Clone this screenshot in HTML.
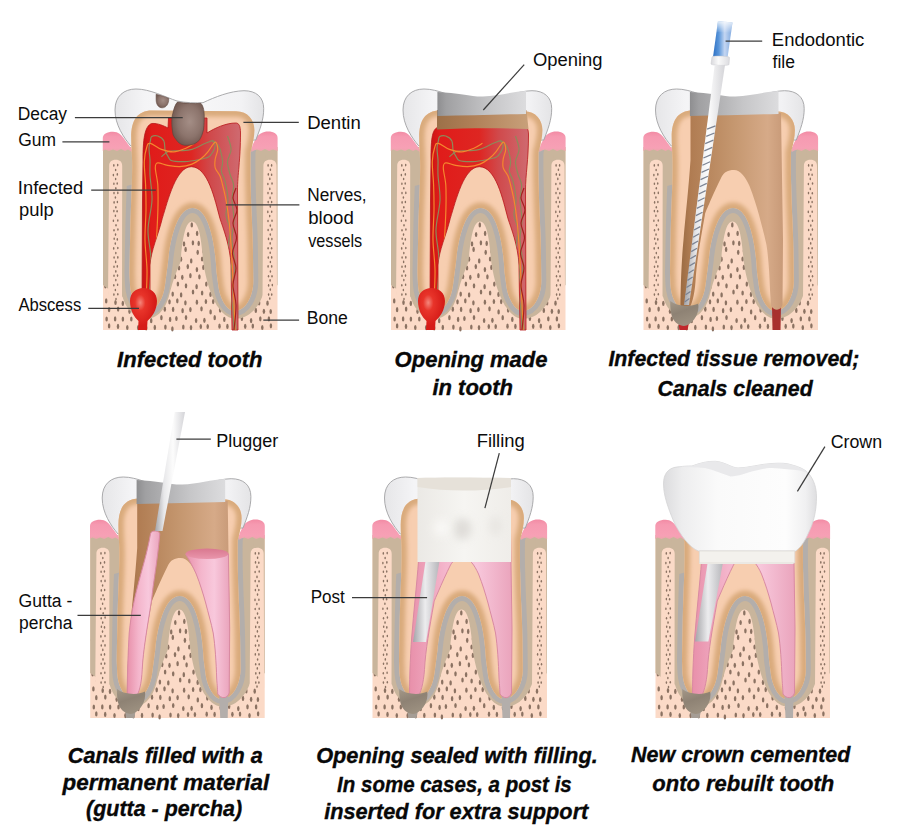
<!DOCTYPE html><html><head><meta charset="utf-8"><style>html,body{margin:0;padding:0;background:#fff;}body{position:relative;width:900px;height:839px;overflow:hidden}svg{display:block;}</style></head><body><svg width="0" height="0" style="position:absolute"><defs><linearGradient id="blueGrad" x1="0" y1="0" x2="1" y2="0"><stop offset="0" stop-color="#2c70c4"/><stop offset="0.3" stop-color="#5a96da"/><stop offset="0.6" stop-color="#c4d6f2"/><stop offset="1" stop-color="#7aa6de"/></linearGradient><linearGradient id="blueFade" x1="0" y1="0" x2="0" y2="1"><stop offset="0" stop-color="#ffffff" stop-opacity="0.85"/><stop offset="1" stop-color="#ffffff" stop-opacity="0"/></linearGradient><linearGradient id="collarGrad" x1="0" y1="0" x2="1" y2="0"><stop offset="0" stop-color="#d8d8dc"/><stop offset="0.4" stop-color="#fafafa"/><stop offset="1" stop-color="#dcdce0"/></linearGradient><linearGradient id="shaftGrad" x1="0" y1="0" x2="1" y2="0"><stop offset="0" stop-color="#a4a4a8"/><stop offset="0.3" stop-color="#e8e8ea"/><stop offset="0.6" stop-color="#fcfcfc"/><stop offset="1" stop-color="#d4d4d8"/></linearGradient><linearGradient id="crownGrad" x1="0" y1="0" x2="1" y2="0"><stop offset="0" stop-color="#dcdcde"/><stop offset="0.12" stop-color="#ededee"/><stop offset="0.35" stop-color="#fafafa"/><stop offset="0.8" stop-color="#fdfdfd"/><stop offset="0.93" stop-color="#f0f0f1"/><stop offset="1" stop-color="#dedee0"/></linearGradient><linearGradient id="postGrad" x1="0" y1="0" x2="1" y2="0"><stop offset="0" stop-color="#a4a4a8"/><stop offset="0.45" stop-color="#ececee"/><stop offset="1" stop-color="#b4b4b8"/></linearGradient><linearGradient id="fillGrad" x1="0" y1="0" x2="1" y2="0"><stop offset="0" stop-color="#ebe9e5"/><stop offset="0.5" stop-color="#f6f5f2"/><stop offset="1" stop-color="#efede9"/></linearGradient><linearGradient id="gpTop" x1="0" y1="0" x2="0" y2="1"><stop offset="0" stop-color="#d9788f"/><stop offset="1" stop-color="#e996ac"/></linearGradient><filter id="blur4" x="-60%" y="-60%" width="220%" height="220%"><feGaussianBlur stdDeviation="4"/></filter></defs></svg><svg width="900" height="839" viewBox="0 0 900 839"><defs><path id="tooth" d="M131.2,137 C131.2,121 137,110.6 152,110.6 L236,111.2 C248,111.2 254.4,120 254.4,130 C254.4,137 252.5,145 250.5,152 C250.3,165 250.5,180 250.7,185 C251,200 251.5,210 251.8,217 C252.3,230 252.8,240 252.9,249 L253.3,281 C253.3,297 245,311 235,311 C226,311 220,297 218.5,287 L216.5,272 C215,240 208,208 192.5,208 C177,208 170,240 168,262 L165,285 C163,300 156,311 147.5,311 C138,311 131,300 130,285 L129.5,273 C129.8,255 130,245 130.2,235 C130.5,220 131.2,200 131.8,185 C132.2,172 132.3,165 132,158 C131.7,150 131.2,145 131.2,137 Z"/><clipPath id="boneClip"><rect x="103" y="149" width="174.5" height="181"/></clipPath><clipPath id="grayClip"><path d="M103,330 L103,200 C112,192 122,186 135,184 L192,166 L192,150 L277.5,150 L277.5,330 Z"/></clipPath><clipPath id="toothClip"><path d="M131.2,137 C131.2,121 137,110.6 152,110.6 L236,111.2 C248,111.2 254.4,120 254.4,130 C254.4,137 252.5,145 250.5,152 C250.3,165 250.5,180 250.7,185 C251,200 251.5,210 251.8,217 C252.3,230 252.8,240 252.9,249 L253.3,281 C253.3,297 245,311 235,311 C226,311 220,297 218.5,287 L216.5,272 C215,240 208,208 192.5,208 C177,208 170,240 168,262 L165,285 C163,300 156,311 147.5,311 C138,311 131,300 130,285 L129.5,273 C129.8,255 130,245 130.2,235 C130.5,220 131.2,200 131.8,185 C132.2,172 132.3,165 132,158 C131.7,150 131.2,145 131.2,137 Z"/></clipPath><clipPath id="pulpClip"><path d="M143,160 C143,140 144.5,126 151.7,123.5 C158,123 164,126 168,128 L168.5,118 L207,118 L207,133 C215,128 226,123 235.7,123 C239,123 240.5,126 240.5,133 C240.5,160 237.5,175 237.5,190 L238,330 L232,330 L231,265 C230,245 223,228 219.9,218.3 C215,200 208,166.7 191.3,166.7 C176,166.7 168,200 162.3,218.3 C158,236 151,250 150,265 L150,305 L142,305 L142.5,200 Z"/></clipPath><clipPath id="stripClip"><path d="M109.2,166 C109.2,162 111.5,159.8 115.7,159.8 C119.9,159.8 122.2,162 122.2,166 L122,300 L108,300 Z M263.4,166 C263.4,162 265.7,159.8 270,159.8 C274.2,159.8 276.5,162 276.5,166 L277,300 L262.5,300 Z"/></clipPath><filter id="blur2" x="-20%" y="-20%" width="140%" height="140%"><feGaussianBlur stdDeviation="2.3"/></filter><linearGradient id="pulpGrad" x1="0" y1="0" x2="1" y2="0"><stop offset="0" stop-color="#c81414"/><stop offset="0.1" stop-color="#e01c1a"/><stop offset="0.5" stop-color="#de2622"/><stop offset="0.7" stop-color="#d04a4c"/><stop offset="1" stop-color="#cf6a70"/></linearGradient><radialGradient id="absGrad" cx="0.38" cy="0.35" r="0.55"><stop offset="0" stop-color="#f4877c"/><stop offset="0.35" stop-color="#e8342a"/><stop offset="1" stop-color="#d61c18"/></radialGradient><linearGradient id="decayGrad" x1="0" y1="0" x2="1" y2="1"><stop offset="0" stop-color="#7d6258"/><stop offset="0.5" stop-color="#937b70"/><stop offset="1" stop-color="#6e5650"/></linearGradient><linearGradient id="openGrad" x1="0" y1="0" x2="1" y2="0"><stop offset="0" stop-color="#8e8e90"/><stop offset="0.1" stop-color="#a0a0a2"/><stop offset="0.6" stop-color="#c6c6c8"/><stop offset="1" stop-color="#dcdcde"/></linearGradient><linearGradient id="brownBand" x1="0" y1="0" x2="1" y2="0"><stop offset="0" stop-color="#9c7048"/><stop offset="0.4" stop-color="#b08058"/><stop offset="1" stop-color="#c8a07a"/></linearGradient><linearGradient id="cavGrad" x1="0" y1="0" x2="1" y2="0"><stop offset="0" stop-color="#9a6a42"/><stop offset="0.1" stop-color="#b07c52"/><stop offset="0.5" stop-color="#c4966e"/><stop offset="0.85" stop-color="#d6aa88"/><stop offset="1" stop-color="#c89a78"/></linearGradient><linearGradient id="gpGrad" x1="0" y1="0" x2="1" y2="0"><stop offset="0" stop-color="#e890aa"/><stop offset="0.35" stop-color="#f4b6cc"/><stop offset="0.65" stop-color="#f8c8dc"/><stop offset="1" stop-color="#eaa4bc"/></linearGradient><linearGradient id="blobGrad" x1="0" y1="0" x2="0.4" y2="1"><stop offset="0" stop-color="#a49888"/><stop offset="0.5" stop-color="#8e8274"/><stop offset="1" stop-color="#9c9080"/></linearGradient><g id="dotsB" fill="#8b7262"><ellipse cx="105.1" cy="200.2" rx="1.25" ry="2.6"/><ellipse cx="114.5" cy="200.4" rx="1.25" ry="2.6"/><ellipse cx="124.5" cy="198.4" rx="1.25" ry="2.6"/><ellipse cx="131.2" cy="201.2" rx="1.25" ry="2.6"/><ellipse cx="141.1" cy="199.0" rx="1.25" ry="2.6"/><ellipse cx="152.8" cy="199.9" rx="1.25" ry="2.6"/><ellipse cx="161.2" cy="199.9" rx="1.25" ry="2.6"/><ellipse cx="169.5" cy="198.7" rx="1.25" ry="2.6"/><ellipse cx="178.5" cy="201.3" rx="1.25" ry="2.6"/><ellipse cx="187.1" cy="200.9" rx="1.25" ry="2.6"/><ellipse cx="196.6" cy="198.4" rx="1.25" ry="2.6"/><ellipse cx="205.9" cy="200.3" rx="1.25" ry="2.6"/><ellipse cx="213.3" cy="198.3" rx="1.25" ry="2.6"/><ellipse cx="224.3" cy="199.9" rx="1.25" ry="2.6"/><ellipse cx="232.8" cy="201.4" rx="1.25" ry="2.6"/><ellipse cx="241.8" cy="201.5" rx="1.25" ry="2.6"/><ellipse cx="249.6" cy="201.1" rx="1.25" ry="2.6"/><ellipse cx="258.8" cy="201.6" rx="1.25" ry="2.6"/><ellipse cx="269.4" cy="198.6" rx="1.25" ry="2.6"/><ellipse cx="109.2" cy="207.5" rx="1.25" ry="2.6"/><ellipse cx="121.2" cy="208.3" rx="1.25" ry="2.6"/><ellipse cx="129.0" cy="207.8" rx="1.25" ry="2.6"/><ellipse cx="137.5" cy="208.1" rx="1.25" ry="2.6"/><ellipse cx="146.0" cy="208.8" rx="1.25" ry="2.6"/><ellipse cx="155.8" cy="210.0" rx="1.25" ry="2.6"/><ellipse cx="165.2" cy="210.0" rx="1.25" ry="2.6"/><ellipse cx="174.8" cy="210.3" rx="1.25" ry="2.6"/><ellipse cx="183.1" cy="207.3" rx="1.25" ry="2.6"/><ellipse cx="192.8" cy="210.2" rx="1.25" ry="2.6"/><ellipse cx="202.0" cy="208.7" rx="1.25" ry="2.6"/><ellipse cx="210.3" cy="207.5" rx="1.25" ry="2.6"/><ellipse cx="219.7" cy="208.8" rx="1.25" ry="2.6"/><ellipse cx="226.7" cy="206.9" rx="1.25" ry="2.6"/><ellipse cx="237.8" cy="210.3" rx="1.25" ry="2.6"/><ellipse cx="244.0" cy="209.6" rx="1.25" ry="2.6"/><ellipse cx="254.2" cy="207.2" rx="1.25" ry="2.6"/><ellipse cx="262.8" cy="209.5" rx="1.25" ry="2.6"/><ellipse cx="273.8" cy="206.9" rx="1.25" ry="2.6"/><ellipse cx="106.4" cy="215.4" rx="1.25" ry="2.6"/><ellipse cx="115.8" cy="216.4" rx="1.25" ry="2.6"/><ellipse cx="125.4" cy="218.7" rx="1.25" ry="2.6"/><ellipse cx="133.0" cy="218.8" rx="1.25" ry="2.6"/><ellipse cx="141.3" cy="215.5" rx="1.25" ry="2.6"/><ellipse cx="151.4" cy="215.3" rx="1.25" ry="2.6"/><ellipse cx="158.9" cy="216.7" rx="1.25" ry="2.6"/><ellipse cx="169.4" cy="215.8" rx="1.25" ry="2.6"/><ellipse cx="176.4" cy="218.3" rx="1.25" ry="2.6"/><ellipse cx="186.3" cy="218.7" rx="1.25" ry="2.6"/><ellipse cx="197.4" cy="216.6" rx="1.25" ry="2.6"/><ellipse cx="204.9" cy="217.1" rx="1.25" ry="2.6"/><ellipse cx="214.5" cy="217.3" rx="1.25" ry="2.6"/><ellipse cx="223.2" cy="217.4" rx="1.25" ry="2.6"/><ellipse cx="233.6" cy="217.0" rx="1.25" ry="2.6"/><ellipse cx="240.8" cy="217.8" rx="1.25" ry="2.6"/><ellipse cx="249.1" cy="216.3" rx="1.25" ry="2.6"/><ellipse cx="260.7" cy="217.1" rx="1.25" ry="2.6"/><ellipse cx="268.2" cy="215.2" rx="1.25" ry="2.6"/><ellipse cx="110.2" cy="225.8" rx="1.25" ry="2.6"/><ellipse cx="117.8" cy="225.9" rx="1.25" ry="2.6"/><ellipse cx="129.0" cy="223.9" rx="1.25" ry="2.6"/><ellipse cx="138.0" cy="225.4" rx="1.25" ry="2.6"/><ellipse cx="147.1" cy="225.0" rx="1.25" ry="2.6"/><ellipse cx="156.2" cy="226.4" rx="1.25" ry="2.6"/><ellipse cx="162.8" cy="223.9" rx="1.25" ry="2.6"/><ellipse cx="174.1" cy="227.2" rx="1.25" ry="2.6"/><ellipse cx="181.6" cy="225.3" rx="1.25" ry="2.6"/><ellipse cx="191.8" cy="224.9" rx="1.25" ry="2.6"/><ellipse cx="200.0" cy="224.8" rx="1.25" ry="2.6"/><ellipse cx="209.0" cy="225.8" rx="1.25" ry="2.6"/><ellipse cx="217.8" cy="225.1" rx="1.25" ry="2.6"/><ellipse cx="228.5" cy="223.8" rx="1.25" ry="2.6"/><ellipse cx="236.7" cy="226.3" rx="1.25" ry="2.6"/><ellipse cx="244.8" cy="224.5" rx="1.25" ry="2.6"/><ellipse cx="255.6" cy="224.6" rx="1.25" ry="2.6"/><ellipse cx="262.4" cy="225.3" rx="1.25" ry="2.6"/><ellipse cx="273.2" cy="224.1" rx="1.25" ry="2.6"/><ellipse cx="105.4" cy="233.4" rx="1.25" ry="2.6"/><ellipse cx="116.2" cy="233.8" rx="1.25" ry="2.6"/><ellipse cx="125.3" cy="232.8" rx="1.25" ry="2.6"/><ellipse cx="132.4" cy="234.5" rx="1.25" ry="2.6"/><ellipse cx="143.4" cy="233.8" rx="1.25" ry="2.6"/><ellipse cx="150.0" cy="232.6" rx="1.25" ry="2.6"/><ellipse cx="160.1" cy="232.9" rx="1.25" ry="2.6"/><ellipse cx="170.1" cy="235.2" rx="1.25" ry="2.6"/><ellipse cx="176.9" cy="233.2" rx="1.25" ry="2.6"/><ellipse cx="188.1" cy="234.5" rx="1.25" ry="2.6"/><ellipse cx="197.1" cy="233.4" rx="1.25" ry="2.6"/><ellipse cx="203.7" cy="233.3" rx="1.25" ry="2.6"/><ellipse cx="215.1" cy="233.2" rx="1.25" ry="2.6"/><ellipse cx="222.4" cy="233.7" rx="1.25" ry="2.6"/><ellipse cx="231.7" cy="233.7" rx="1.25" ry="2.6"/><ellipse cx="242.5" cy="232.8" rx="1.25" ry="2.6"/><ellipse cx="248.2" cy="235.6" rx="1.25" ry="2.6"/><ellipse cx="260.4" cy="235.8" rx="1.25" ry="2.6"/><ellipse cx="267.8" cy="235.6" rx="1.25" ry="2.6"/><ellipse cx="112.0" cy="241.5" rx="1.25" ry="2.6"/><ellipse cx="120.4" cy="243.7" rx="1.25" ry="2.6"/><ellipse cx="129.1" cy="242.6" rx="1.25" ry="2.6"/><ellipse cx="136.7" cy="241.9" rx="1.25" ry="2.6"/><ellipse cx="145.5" cy="240.9" rx="1.25" ry="2.6"/><ellipse cx="155.8" cy="241.7" rx="1.25" ry="2.6"/><ellipse cx="165.6" cy="240.9" rx="1.25" ry="2.6"/><ellipse cx="175.0" cy="243.2" rx="1.25" ry="2.6"/><ellipse cx="184.0" cy="243.9" rx="1.25" ry="2.6"/><ellipse cx="192.9" cy="242.8" rx="1.25" ry="2.6"/><ellipse cx="198.7" cy="243.4" rx="1.25" ry="2.6"/><ellipse cx="208.3" cy="241.8" rx="1.25" ry="2.6"/><ellipse cx="219.1" cy="242.6" rx="1.25" ry="2.6"/><ellipse cx="227.2" cy="244.1" rx="1.25" ry="2.6"/><ellipse cx="236.9" cy="241.9" rx="1.25" ry="2.6"/><ellipse cx="244.6" cy="243.8" rx="1.25" ry="2.6"/><ellipse cx="254.4" cy="243.5" rx="1.25" ry="2.6"/><ellipse cx="263.0" cy="241.4" rx="1.25" ry="2.6"/><ellipse cx="272.6" cy="243.6" rx="1.25" ry="2.6"/><ellipse cx="104.8" cy="252.1" rx="1.25" ry="2.6"/><ellipse cx="116.5" cy="252.1" rx="1.25" ry="2.6"/><ellipse cx="125.2" cy="249.2" rx="1.25" ry="2.6"/><ellipse cx="133.5" cy="252.3" rx="1.25" ry="2.6"/><ellipse cx="140.4" cy="250.2" rx="1.25" ry="2.6"/><ellipse cx="150.2" cy="251.1" rx="1.25" ry="2.6"/><ellipse cx="159.7" cy="250.9" rx="1.25" ry="2.6"/><ellipse cx="170.0" cy="249.2" rx="1.25" ry="2.6"/><ellipse cx="176.4" cy="249.7" rx="1.25" ry="2.6"/><ellipse cx="185.6" cy="249.4" rx="1.25" ry="2.6"/><ellipse cx="197.7" cy="252.3" rx="1.25" ry="2.6"/><ellipse cx="203.5" cy="251.0" rx="1.25" ry="2.6"/><ellipse cx="213.3" cy="250.3" rx="1.25" ry="2.6"/><ellipse cx="222.5" cy="251.5" rx="1.25" ry="2.6"/><ellipse cx="232.3" cy="250.5" rx="1.25" ry="2.6"/><ellipse cx="239.9" cy="250.4" rx="1.25" ry="2.6"/><ellipse cx="248.6" cy="251.2" rx="1.25" ry="2.6"/><ellipse cx="259.8" cy="250.6" rx="1.25" ry="2.6"/><ellipse cx="266.5" cy="249.8" rx="1.25" ry="2.6"/><ellipse cx="110.0" cy="259.9" rx="1.25" ry="2.6"/><ellipse cx="120.5" cy="259.1" rx="1.25" ry="2.6"/><ellipse cx="129.6" cy="259.9" rx="1.25" ry="2.6"/><ellipse cx="137.3" cy="259.0" rx="1.25" ry="2.6"/><ellipse cx="146.5" cy="260.2" rx="1.25" ry="2.6"/><ellipse cx="155.2" cy="260.2" rx="1.25" ry="2.6"/><ellipse cx="164.4" cy="258.6" rx="1.25" ry="2.6"/><ellipse cx="173.6" cy="260.2" rx="1.25" ry="2.6"/><ellipse cx="181.0" cy="259.2" rx="1.25" ry="2.6"/><ellipse cx="191.2" cy="260.9" rx="1.25" ry="2.6"/><ellipse cx="202.1" cy="259.0" rx="1.25" ry="2.6"/><ellipse cx="210.9" cy="260.5" rx="1.25" ry="2.6"/><ellipse cx="217.6" cy="259.4" rx="1.25" ry="2.6"/><ellipse cx="226.1" cy="260.6" rx="1.25" ry="2.6"/><ellipse cx="237.1" cy="260.9" rx="1.25" ry="2.6"/><ellipse cx="246.6" cy="260.1" rx="1.25" ry="2.6"/><ellipse cx="255.3" cy="259.7" rx="1.25" ry="2.6"/><ellipse cx="262.1" cy="259.8" rx="1.25" ry="2.6"/><ellipse cx="270.7" cy="258.2" rx="1.25" ry="2.6"/><ellipse cx="107.0" cy="266.4" rx="1.25" ry="2.6"/><ellipse cx="113.5" cy="266.6" rx="1.25" ry="2.6"/><ellipse cx="125.4" cy="266.8" rx="1.25" ry="2.6"/><ellipse cx="131.3" cy="269.2" rx="1.25" ry="2.6"/><ellipse cx="140.6" cy="269.2" rx="1.25" ry="2.6"/><ellipse cx="151.6" cy="269.2" rx="1.25" ry="2.6"/><ellipse cx="161.6" cy="268.3" rx="1.25" ry="2.6"/><ellipse cx="170.1" cy="266.3" rx="1.25" ry="2.6"/><ellipse cx="179.0" cy="268.0" rx="1.25" ry="2.6"/><ellipse cx="187.8" cy="266.6" rx="1.25" ry="2.6"/><ellipse cx="196.9" cy="269.6" rx="1.25" ry="2.6"/><ellipse cx="203.4" cy="267.4" rx="1.25" ry="2.6"/><ellipse cx="214.2" cy="269.2" rx="1.25" ry="2.6"/><ellipse cx="222.1" cy="266.8" rx="1.25" ry="2.6"/><ellipse cx="231.1" cy="268.4" rx="1.25" ry="2.6"/><ellipse cx="241.9" cy="267.6" rx="1.25" ry="2.6"/><ellipse cx="249.5" cy="267.6" rx="1.25" ry="2.6"/><ellipse cx="258.5" cy="267.7" rx="1.25" ry="2.6"/><ellipse cx="266.5" cy="268.0" rx="1.25" ry="2.6"/><ellipse cx="112.2" cy="276.2" rx="1.25" ry="2.6"/><ellipse cx="120.4" cy="275.3" rx="1.25" ry="2.6"/><ellipse cx="129.2" cy="277.4" rx="1.25" ry="2.6"/><ellipse cx="138.1" cy="276.6" rx="1.25" ry="2.6"/><ellipse cx="146.4" cy="277.0" rx="1.25" ry="2.6"/><ellipse cx="156.9" cy="275.2" rx="1.25" ry="2.6"/><ellipse cx="163.0" cy="277.4" rx="1.25" ry="2.6"/><ellipse cx="175.0" cy="276.6" rx="1.25" ry="2.6"/><ellipse cx="182.3" cy="277.3" rx="1.25" ry="2.6"/><ellipse cx="190.4" cy="275.7" rx="1.25" ry="2.6"/><ellipse cx="199.4" cy="276.8" rx="1.25" ry="2.6"/><ellipse cx="208.8" cy="275.5" rx="1.25" ry="2.6"/><ellipse cx="219.2" cy="278.1" rx="1.25" ry="2.6"/><ellipse cx="226.8" cy="277.2" rx="1.25" ry="2.6"/><ellipse cx="236.2" cy="277.8" rx="1.25" ry="2.6"/><ellipse cx="245.8" cy="275.7" rx="1.25" ry="2.6"/><ellipse cx="253.5" cy="274.8" rx="1.25" ry="2.6"/><ellipse cx="263.4" cy="276.1" rx="1.25" ry="2.6"/><ellipse cx="271.3" cy="276.0" rx="1.25" ry="2.6"/><ellipse cx="105.4" cy="286.0" rx="1.25" ry="2.6"/><ellipse cx="113.7" cy="286.8" rx="1.25" ry="2.6"/><ellipse cx="123.9" cy="285.4" rx="1.25" ry="2.6"/><ellipse cx="132.9" cy="286.2" rx="1.25" ry="2.6"/><ellipse cx="143.2" cy="285.2" rx="1.25" ry="2.6"/><ellipse cx="150.9" cy="285.8" rx="1.25" ry="2.6"/><ellipse cx="161.3" cy="284.6" rx="1.25" ry="2.6"/><ellipse cx="169.8" cy="286.7" rx="1.25" ry="2.6"/><ellipse cx="177.9" cy="284.0" rx="1.25" ry="2.6"/><ellipse cx="186.0" cy="285.8" rx="1.25" ry="2.6"/><ellipse cx="196.6" cy="286.7" rx="1.25" ry="2.6"/><ellipse cx="206.3" cy="284.1" rx="1.25" ry="2.6"/><ellipse cx="212.9" cy="284.1" rx="1.25" ry="2.6"/><ellipse cx="221.9" cy="285.7" rx="1.25" ry="2.6"/><ellipse cx="233.3" cy="286.4" rx="1.25" ry="2.6"/><ellipse cx="240.1" cy="286.3" rx="1.25" ry="2.6"/><ellipse cx="249.3" cy="284.7" rx="1.25" ry="2.6"/><ellipse cx="259.8" cy="283.5" rx="1.25" ry="2.6"/><ellipse cx="266.5" cy="286.2" rx="1.25" ry="2.6"/><ellipse cx="109.8" cy="293.0" rx="1.25" ry="2.6"/><ellipse cx="119.8" cy="294.1" rx="1.25" ry="2.6"/><ellipse cx="126.7" cy="292.9" rx="1.25" ry="2.6"/><ellipse cx="137.3" cy="293.4" rx="1.25" ry="2.6"/><ellipse cx="145.5" cy="293.8" rx="1.25" ry="2.6"/><ellipse cx="157.1" cy="293.1" rx="1.25" ry="2.6"/><ellipse cx="164.7" cy="292.1" rx="1.25" ry="2.6"/><ellipse cx="172.7" cy="294.1" rx="1.25" ry="2.6"/><ellipse cx="181.1" cy="294.9" rx="1.25" ry="2.6"/><ellipse cx="193.0" cy="292.0" rx="1.25" ry="2.6"/><ellipse cx="202.1" cy="293.0" rx="1.25" ry="2.6"/><ellipse cx="210.5" cy="294.4" rx="1.25" ry="2.6"/><ellipse cx="217.8" cy="294.1" rx="1.25" ry="2.6"/><ellipse cx="228.1" cy="294.6" rx="1.25" ry="2.6"/><ellipse cx="235.7" cy="294.4" rx="1.25" ry="2.6"/><ellipse cx="247.2" cy="294.1" rx="1.25" ry="2.6"/><ellipse cx="254.6" cy="292.1" rx="1.25" ry="2.6"/><ellipse cx="263.5" cy="293.0" rx="1.25" ry="2.6"/><ellipse cx="273.3" cy="294.1" rx="1.25" ry="2.6"/><ellipse cx="106.2" cy="300.9" rx="1.25" ry="2.6"/><ellipse cx="115.5" cy="302.5" rx="1.25" ry="2.6"/><ellipse cx="122.8" cy="303.4" rx="1.25" ry="2.6"/><ellipse cx="133.6" cy="300.6" rx="1.25" ry="2.6"/><ellipse cx="143.6" cy="300.7" rx="1.25" ry="2.6"/><ellipse cx="150.4" cy="302.8" rx="1.25" ry="2.6"/><ellipse cx="160.4" cy="302.2" rx="1.25" ry="2.6"/><ellipse cx="169.5" cy="301.8" rx="1.25" ry="2.6"/><ellipse cx="177.3" cy="300.8" rx="1.25" ry="2.6"/><ellipse cx="185.4" cy="302.8" rx="1.25" ry="2.6"/><ellipse cx="196.9" cy="302.2" rx="1.25" ry="2.6"/><ellipse cx="205.9" cy="301.5" rx="1.25" ry="2.6"/><ellipse cx="213.2" cy="301.6" rx="1.25" ry="2.6"/><ellipse cx="224.3" cy="300.4" rx="1.25" ry="2.6"/><ellipse cx="232.0" cy="301.1" rx="1.25" ry="2.6"/><ellipse cx="242.0" cy="301.5" rx="1.25" ry="2.6"/><ellipse cx="249.4" cy="301.7" rx="1.25" ry="2.6"/><ellipse cx="259.1" cy="303.0" rx="1.25" ry="2.6"/><ellipse cx="267.5" cy="303.2" rx="1.25" ry="2.6"/><ellipse cx="109.1" cy="309.7" rx="1.25" ry="2.6"/><ellipse cx="118.1" cy="309.1" rx="1.25" ry="2.6"/><ellipse cx="129.5" cy="311.3" rx="1.25" ry="2.6"/><ellipse cx="136.4" cy="309.4" rx="1.25" ry="2.6"/><ellipse cx="146.2" cy="311.4" rx="1.25" ry="2.6"/><ellipse cx="156.6" cy="311.4" rx="1.25" ry="2.6"/><ellipse cx="164.8" cy="309.2" rx="1.25" ry="2.6"/><ellipse cx="173.1" cy="309.4" rx="1.25" ry="2.6"/><ellipse cx="182.6" cy="310.7" rx="1.25" ry="2.6"/><ellipse cx="190.4" cy="309.6" rx="1.25" ry="2.6"/><ellipse cx="201.5" cy="308.8" rx="1.25" ry="2.6"/><ellipse cx="210.6" cy="311.9" rx="1.25" ry="2.6"/><ellipse cx="220.1" cy="310.1" rx="1.25" ry="2.6"/><ellipse cx="227.7" cy="310.8" rx="1.25" ry="2.6"/><ellipse cx="237.0" cy="312.2" rx="1.25" ry="2.6"/><ellipse cx="246.2" cy="309.8" rx="1.25" ry="2.6"/><ellipse cx="255.8" cy="310.4" rx="1.25" ry="2.6"/><ellipse cx="263.9" cy="311.3" rx="1.25" ry="2.6"/><ellipse cx="270.7" cy="311.5" rx="1.25" ry="2.6"/><ellipse cx="106.6" cy="319.0" rx="1.25" ry="2.6"/><ellipse cx="115.1" cy="318.9" rx="1.25" ry="2.6"/><ellipse cx="122.9" cy="319.1" rx="1.25" ry="2.6"/><ellipse cx="131.3" cy="319.0" rx="1.25" ry="2.6"/><ellipse cx="142.5" cy="318.8" rx="1.25" ry="2.6"/><ellipse cx="151.2" cy="320.7" rx="1.25" ry="2.6"/><ellipse cx="161.4" cy="317.7" rx="1.25" ry="2.6"/><ellipse cx="170.1" cy="319.4" rx="1.25" ry="2.6"/><ellipse cx="176.4" cy="318.5" rx="1.25" ry="2.6"/><ellipse cx="186.0" cy="317.5" rx="1.25" ry="2.6"/><ellipse cx="196.1" cy="320.5" rx="1.25" ry="2.6"/><ellipse cx="204.4" cy="320.3" rx="1.25" ry="2.6"/><ellipse cx="214.7" cy="317.7" rx="1.25" ry="2.6"/><ellipse cx="224.3" cy="319.4" rx="1.25" ry="2.6"/><ellipse cx="233.5" cy="319.8" rx="1.25" ry="2.6"/><ellipse cx="241.9" cy="318.4" rx="1.25" ry="2.6"/><ellipse cx="251.1" cy="320.6" rx="1.25" ry="2.6"/><ellipse cx="260.3" cy="318.8" rx="1.25" ry="2.6"/><ellipse cx="268.9" cy="318.9" rx="1.25" ry="2.6"/><ellipse cx="109.1" cy="325.9" rx="1.25" ry="2.6"/><ellipse cx="118.0" cy="326.4" rx="1.25" ry="2.6"/><ellipse cx="127.3" cy="327.5" rx="1.25" ry="2.6"/><ellipse cx="138.2" cy="327.6" rx="1.25" ry="2.6"/><ellipse cx="146.2" cy="328.0" rx="1.25" ry="2.6"/><ellipse cx="154.8" cy="327.4" rx="1.25" ry="2.6"/><ellipse cx="165.4" cy="327.1" rx="1.25" ry="2.6"/><ellipse cx="172.4" cy="328.9" rx="1.25" ry="2.6"/><ellipse cx="183.3" cy="327.0" rx="1.25" ry="2.6"/><ellipse cx="191.0" cy="327.6" rx="1.25" ry="2.6"/><ellipse cx="200.8" cy="326.5" rx="1.25" ry="2.6"/><ellipse cx="207.7" cy="326.5" rx="1.25" ry="2.6"/><ellipse cx="219.5" cy="326.2" rx="1.25" ry="2.6"/><ellipse cx="227.4" cy="326.4" rx="1.25" ry="2.6"/><ellipse cx="235.5" cy="326.3" rx="1.25" ry="2.6"/><ellipse cx="245.2" cy="326.3" rx="1.25" ry="2.6"/><ellipse cx="252.8" cy="326.1" rx="1.25" ry="2.6"/><ellipse cx="262.3" cy="327.5" rx="1.25" ry="2.6"/><ellipse cx="270.9" cy="325.8" rx="1.25" ry="2.6"/></g><g id="strips"><path d="M109.2,166 C109.2,162 111.5,159.8 115.7,159.8 C119.9,159.8 122.2,162 122.2,166 L122,300 L108,300 Z M263.4,166 C263.4,162 265.7,159.8 270,159.8 C274.2,159.8 276.5,162 276.5,166 L277,300 L262.5,300 Z" fill="#fbdac7"/><g fill="#8b7262" clip-path="url(#stripClip)"><ellipse cx="113.8" cy="165.4" rx="0.75" ry="1.3"/><ellipse cx="117.7" cy="165.1" rx="0.75" ry="1.3"/><ellipse cx="115.6" cy="170.0" rx="0.75" ry="1.3"/><ellipse cx="113.4" cy="175.1" rx="0.75" ry="1.3"/><ellipse cx="117.3" cy="174.4" rx="0.75" ry="1.3"/><ellipse cx="115.6" cy="179.0" rx="0.75" ry="1.3"/><ellipse cx="113.9" cy="183.8" rx="0.75" ry="1.3"/><ellipse cx="117.2" cy="183.5" rx="0.75" ry="1.3"/><ellipse cx="115.8" cy="188.3" rx="0.75" ry="1.3"/><ellipse cx="114.0" cy="193.1" rx="0.75" ry="1.3"/><ellipse cx="117.8" cy="192.9" rx="0.75" ry="1.3"/><ellipse cx="115.4" cy="197.5" rx="0.75" ry="1.3"/><ellipse cx="114.1" cy="202.4" rx="0.75" ry="1.3"/><ellipse cx="117.4" cy="202.0" rx="0.75" ry="1.3"/><ellipse cx="115.8" cy="207.3" rx="0.75" ry="1.3"/><ellipse cx="113.9" cy="211.1" rx="0.75" ry="1.3"/><ellipse cx="117.1" cy="211.2" rx="0.75" ry="1.3"/><ellipse cx="115.4" cy="215.7" rx="0.75" ry="1.3"/><ellipse cx="113.4" cy="220.8" rx="0.75" ry="1.3"/><ellipse cx="117.8" cy="220.5" rx="0.75" ry="1.3"/><ellipse cx="116.0" cy="225.3" rx="0.75" ry="1.3"/><ellipse cx="114.0" cy="230.2" rx="0.75" ry="1.3"/><ellipse cx="117.9" cy="229.5" rx="0.75" ry="1.3"/><ellipse cx="115.5" cy="234.6" rx="0.75" ry="1.3"/><ellipse cx="114.2" cy="238.8" rx="0.75" ry="1.3"/><ellipse cx="117.3" cy="239.4" rx="0.75" ry="1.3"/><ellipse cx="115.3" cy="243.6" rx="0.75" ry="1.3"/><ellipse cx="113.7" cy="248.4" rx="0.75" ry="1.3"/><ellipse cx="117.8" cy="248.0" rx="0.75" ry="1.3"/><ellipse cx="115.8" cy="253.1" rx="0.75" ry="1.3"/><ellipse cx="114.1" cy="257.5" rx="0.75" ry="1.3"/><ellipse cx="117.8" cy="257.4" rx="0.75" ry="1.3"/><ellipse cx="115.6" cy="261.9" rx="0.75" ry="1.3"/><ellipse cx="114.0" cy="266.7" rx="0.75" ry="1.3"/><ellipse cx="117.3" cy="266.4" rx="0.75" ry="1.3"/><ellipse cx="115.8" cy="271.4" rx="0.75" ry="1.3"/><ellipse cx="114.0" cy="275.8" rx="0.75" ry="1.3"/><ellipse cx="117.5" cy="275.6" rx="0.75" ry="1.3"/><ellipse cx="115.8" cy="280.1" rx="0.75" ry="1.3"/><ellipse cx="113.8" cy="285.3" rx="0.75" ry="1.3"/><ellipse cx="117.6" cy="284.8" rx="0.75" ry="1.3"/><ellipse cx="115.4" cy="290.0" rx="0.75" ry="1.3"/><ellipse cx="113.9" cy="294.6" rx="0.75" ry="1.3"/><ellipse cx="117.8" cy="294.3" rx="0.75" ry="1.3"/><ellipse cx="116.0" cy="299.1" rx="0.75" ry="1.3"/><ellipse cx="268.1" cy="165.4" rx="0.75" ry="1.3"/><ellipse cx="271.6" cy="165.4" rx="0.75" ry="1.3"/><ellipse cx="270.4" cy="169.8" rx="0.75" ry="1.3"/><ellipse cx="268.3" cy="174.4" rx="0.75" ry="1.3"/><ellipse cx="271.6" cy="174.8" rx="0.75" ry="1.3"/><ellipse cx="269.8" cy="178.9" rx="0.75" ry="1.3"/><ellipse cx="267.9" cy="184.0" rx="0.75" ry="1.3"/><ellipse cx="272.0" cy="183.5" rx="0.75" ry="1.3"/><ellipse cx="269.8" cy="188.9" rx="0.75" ry="1.3"/><ellipse cx="268.0" cy="193.1" rx="0.75" ry="1.3"/><ellipse cx="271.8" cy="193.3" rx="0.75" ry="1.3"/><ellipse cx="270.1" cy="197.9" rx="0.75" ry="1.3"/><ellipse cx="268.2" cy="202.1" rx="0.75" ry="1.3"/><ellipse cx="271.6" cy="202.0" rx="0.75" ry="1.3"/><ellipse cx="270.3" cy="206.6" rx="0.75" ry="1.3"/><ellipse cx="267.8" cy="211.9" rx="0.75" ry="1.3"/><ellipse cx="271.7" cy="211.8" rx="0.75" ry="1.3"/><ellipse cx="269.7" cy="216.1" rx="0.75" ry="1.3"/><ellipse cx="268.0" cy="221.0" rx="0.75" ry="1.3"/><ellipse cx="272.0" cy="220.8" rx="0.75" ry="1.3"/><ellipse cx="270.3" cy="225.6" rx="0.75" ry="1.3"/><ellipse cx="268.1" cy="230.0" rx="0.75" ry="1.3"/><ellipse cx="271.9" cy="229.6" rx="0.75" ry="1.3"/><ellipse cx="270.3" cy="234.6" rx="0.75" ry="1.3"/><ellipse cx="268.5" cy="238.9" rx="0.75" ry="1.3"/><ellipse cx="271.9" cy="239.1" rx="0.75" ry="1.3"/><ellipse cx="270.2" cy="243.4" rx="0.75" ry="1.3"/><ellipse cx="268.1" cy="248.3" rx="0.75" ry="1.3"/><ellipse cx="271.6" cy="248.3" rx="0.75" ry="1.3"/><ellipse cx="270.2" cy="252.8" rx="0.75" ry="1.3"/><ellipse cx="268.3" cy="257.6" rx="0.75" ry="1.3"/><ellipse cx="271.7" cy="257.4" rx="0.75" ry="1.3"/><ellipse cx="270.4" cy="262.0" rx="0.75" ry="1.3"/><ellipse cx="268.1" cy="266.4" rx="0.75" ry="1.3"/><ellipse cx="271.7" cy="266.4" rx="0.75" ry="1.3"/><ellipse cx="270.4" cy="271.5" rx="0.75" ry="1.3"/><ellipse cx="268.5" cy="276.3" rx="0.75" ry="1.3"/><ellipse cx="272.0" cy="276.2" rx="0.75" ry="1.3"/><ellipse cx="270.1" cy="280.4" rx="0.75" ry="1.3"/><ellipse cx="268.6" cy="285.4" rx="0.75" ry="1.3"/><ellipse cx="272.3" cy="285.1" rx="0.75" ry="1.3"/><ellipse cx="270.3" cy="289.6" rx="0.75" ry="1.3"/><ellipse cx="268.6" cy="294.6" rx="0.75" ry="1.3"/><ellipse cx="271.7" cy="294.6" rx="0.75" ry="1.3"/><ellipse cx="269.8" cy="298.6" rx="0.75" ry="1.3"/></g></g><g id="lining" clip-path="url(#boneClip)"><path d="M119,147 L120.5,285 C121.5,302 130,316 143,318.7 L147,318.7 C160,318 167,306 170,292 C173,280 177,270 180.5,262 C182.5,240 185,221.6 192,221.6 C199,221.6 201.5,240 203,260 C205.5,280 212,300 219.5,309 C224,315 229,318.7 236,318.7 C250,318.7 262,305 265.5,285 L266,147 Z" fill="#c9b59c"/><use href="#tooth" fill="#b3aeab" stroke="#b3aeab" stroke-width="10" stroke-linejoin="round" clip-path="url(#grayClip)"/></g><g id="gums"><path d="M102.8,151 L102.8,138 C102.8,134 107,131.7 113,131.7 C118,131.7 122,135 125,140 L132,149.5 L132,152 L128,149.5 L125,151 L121,149 L117,151 L113,149.5 L109,151 L105,149.5 Z" fill="url(#gumGrad)"/><path d="M277.6,151 L277.6,138 C277.6,134 274,131.5 268,131.5 C263,131.5 259,134 256.5,137 L252.5,145 L251.3,150 L251.3,152 L254,150.5 L257,149.5 L261,151 L265,149 L269,151 L273,149.5 Z" fill="url(#gumGrad)"/></g><path id="enamel" d="M130.8,146 C124,138 115,125 115,110 C115,96 124,89 136,89 C150,89 165,97 177,101 C186,103 196,103 203,102.7 C215,97 230,91 244,90.7 C256,90.7 263.7,97 263.7,108.6 C263.7,120 260,129 255.8,140 Z" fill="url(#enGrad)" stroke="#a2a2a4" stroke-width="0.9"/><linearGradient id="enGrad" x1="0" y1="0" x2="1" y2="0"><stop offset="0" stop-color="#e6e6e8"/><stop offset="0.2" stop-color="#f4f4f6"/><stop offset="0.5" stop-color="#f8f8f9"/><stop offset="0.85" stop-color="#f2f2f4"/><stop offset="1" stop-color="#e4e4e6"/></linearGradient><g id="dentin"><use href="#tooth" fill="#f7ceb0"/><g clip-path="url(#toothClip)"><use href="#tooth" fill="none" stroke="#d9aa7c" stroke-width="11" filter="url(#blur2)"/></g></g><radialGradient id="decayGrad2" cx="0.55" cy="0.45" r="0.6"><stop offset="0" stop-color="#a48e86"/><stop offset="0.6" stop-color="#8c746c"/><stop offset="1" stop-color="#6e564e"/></radialGradient><linearGradient id="gumGrad" x1="0" y1="0" x2="0" y2="1"><stop offset="0" stop-color="#f28ba4"/><stop offset="0.25" stop-color="#f69ab1"/><stop offset="0.8" stop-color="#f7a0b5"/><stop offset="1" stop-color="#e8a8a8"/></linearGradient></defs><rect width="900" height="839" fill="#fff"/><g transform="translate(0,0)"><rect x="103" y="147" width="174.5" height="183" fill="#fbdac7"/><use href="#dotsB"/><path d="M103,147 H131 V300 C120,296 112,292 103,285 Z" fill="#c9b59c"/><path d="M250,147 H277.5 V285 C270,292 262,296 250,300 Z" fill="#c9b59c"/><use href="#lining"/><use href="#strips"/><use href="#gums"/><use href="#enamel"/><use href="#dentin"/><path d="M143,160 C143,140 144.5,126 151.7,123.5 C158,123 164,126 168,128 L168.5,118 L207,118 L207,133 C215,128 226,123 235.7,123 C239,123 240.5,126 240.5,133 C240.5,160 237.5,175 237.5,190 L238,330 L232,330 L231,265 C230,245 223,228 219.9,218.3 C215,200 208,166.7 191.3,166.7 C176,166.7 168,200 162.3,218.3 C158,236 151,250 150,265 L150,305 L142,305 L142.5,200 Z" fill="url(#pulpGrad)" stroke="#b8161a" stroke-width="0.8"/><g fill="none" stroke-width="1.2" clip-path="url(#pulpClip)"><path d="M149,300 C149.3,293.3 151.2,271.7 151,260 C150.8,248.3 147.8,240.0 148,230 C148.2,220.0 151.7,209.2 152,200 C152.3,190.8 150.3,181.7 150,175 C149.7,168.3 150.2,164.5 150,160 C149.8,155.5 148.9,151.2 149,148 C149.1,144.8 150.0,142.8 150.4,140.9 C150.8,139.0 150.5,137.4 151.7,136.6 C152.9,135.8 155.8,135.3 157.8,136 C159.8,136.7 162.7,138.5 163.9,140.9 C165.1,143.3 164.5,148.2 165.1,150.7 C165.7,153.1 166.6,154.0 167.6,155.6 C168.6,157.2 168.8,159.5 171.2,160.5 C173.6,161.5 178.3,161.7 182.2,161.7 C186.1,161.7 190.6,161.1 194.5,160.5 C198.4,159.9 202.9,158.8 205.5,158 C208.1,157.2 208.7,157.6 210.3,155.6 C211.9,153.6 214.9,148.4 215.2,145.8 C215.5,143.2 212.5,141.0 212,140" stroke="#8d8a5a"/><path d="M161.4,156.8 C162.6,155.9 165.7,152.3 168.8,151.3 C171.9,150.3 175.9,151.0 179.8,150.7 C183.7,150.4 187.7,150.6 192,149.4 C196.3,148.2 202.0,144.7 205.5,143.3 C209.0,141.9 210.8,140.7 212.8,140.9 C214.8,141.1 216.5,143.2 217.7,144.6 C218.9,146.0 219.3,146.6 220.1,149.4 C220.9,152.2 222.4,158.0 222.6,161.7 C222.8,165.4 221.0,168.2 221.4,171.5 C221.8,174.8 223.9,176.4 225,181.2 C226.1,185.9 227.8,194.4 228,200 C228.2,205.6 225.7,210.0 226,215 C226.3,220.0 229.7,224.2 230,230 C230.3,235.8 227.7,243.3 228,250 C228.3,256.7 231.7,263.3 232,270 C232.3,276.7 229.8,283.3 230,290 C230.2,296.7 232.3,303.3 233,310 C233.7,316.7 233.8,326.7 234,330" stroke="#8d8a5a"/><path d="M227.5,136 C228.1,138.2 231.1,145.1 231.1,149.4 C231.1,153.7 227.7,157.6 227.5,161.7 C227.3,165.8 228.9,170.0 229.9,173.9 C230.9,177.8 233.2,180.7 233.6,185 C233.9,189.3 231.9,194.2 232,200 C232.1,205.8 234.0,213.3 234,220 C234.0,226.7 231.8,232.5 232,240 C232.2,247.5 234.8,256.7 235,265 C235.2,273.3 232.8,279.2 233,290 C233.2,300.8 235.5,323.3 236,330" stroke="#8d8a5a"/><path d="M146,300 C146.2,295.0 147.2,280.0 147,270 C146.8,260.0 145.2,250.0 145,240 C144.8,230.0 145.9,219.2 146,210 C146.1,200.8 145.9,193.1 145.6,185 C145.3,176.9 144.1,168.0 144.3,161.7 C144.5,155.4 145.8,150.1 146.8,147 C147.8,143.9 148.0,142.9 150.4,143.3 C152.8,143.7 157.5,148.0 161.4,149.4 C165.3,150.8 169.6,152.1 173.7,151.9 C177.8,151.7 182.4,149.6 185.9,148.2 C189.4,146.8 193.1,144.1 194.5,143.3" stroke="#f5872e"/><path d="M152,300 C152.5,293.3 154.2,271.7 155,260 C155.8,248.3 156.5,239.2 157,230 C157.5,220.8 157.9,212.5 158,205 C158.1,197.5 158.2,191.2 157.8,185 C157.4,178.8 155.3,171.5 155.3,167.8 C155.3,164.1 155.8,163.3 157.8,162.9 C159.9,162.5 163.9,164.7 167.6,165.3 C171.3,165.9 175.7,166.8 179.8,166.6 C183.9,166.4 188.3,165.5 192,164.1 C195.7,162.7 199.2,160.0 201.8,158 C204.5,156.0 205.7,154.6 207.9,151.9 C210.1,149.2 213.6,142.5 215.2,142.1 C216.8,141.7 217.7,146.6 217.7,149.4 C217.7,152.2 215.6,156.1 215.2,159.2 C214.8,162.3 214.4,165.0 215.2,167.8 C216.0,170.7 218.9,173.4 220.1,176.3 C221.3,179.2 221.6,181.1 222.6,185 C223.6,188.9 224.9,194.2 226,200 C227.1,205.8 228.2,212.5 229,220 C229.8,227.5 230.3,235.0 231,245 C231.7,255.0 232.3,265.8 233,280 C233.7,294.2 234.7,321.7 235,330" stroke="#f5872e"/><path d="M236,188 C235.5,189.7 232.8,194.3 233,198 C233.2,201.7 237.0,205.8 237,210 C237.0,214.2 233.1,218.3 233,223 C232.9,227.7 236.6,233.0 236.5,238 C236.4,243.0 232.6,248.0 232.5,253 C232.4,258.0 235.9,262.7 236,268 C236.1,273.3 233.0,278.8 233,285 C233.0,291.2 235.8,297.5 236,305 C236.2,312.5 234.3,325.8 234,330" stroke="#a3221e"/></g><path d="M156.1,94.3 C160,95.3 165,96.8 168.7,98.3 C169,104 166,107.8 162.2,107.8 C158.5,107.8 156,104.5 156.1,99 Z" fill="url(#decayGrad2)" stroke="#6a524a" stroke-width="0.6"/><path d="M177.5,102.1 C185,103.5 195,104 200.8,103.3 C203.5,106 204.5,112 204.2,118.5 C204,124 203.8,128 203.4,130 C202,136 200,139 199.6,139.9 C197,142.5 194,144.3 192,144.5 C189,145.3 186.5,145.5 184.4,145.3 C181,144.5 179,143 177.5,141.4 C174,137 173,135 172.9,133.8 C172,128 171.8,125 171.8,122.3 C171.8,118 172.2,115 172.9,113.2 C174,108 175.5,104 177.5,102.1 Z" fill="url(#decayGrad2)" stroke="#5e463e" stroke-width="0.7"/><path d="M138,330 L138.5,321 C134,317 130,310 130,301 C130,293 136,288 143.5,288 C151,288 157,293 157,301 C157,310 152,317 147.5,321 L147,330 Z" fill="url(#absGrad)"/></g><g transform="translate(288,0)"><rect x="103" y="147" width="174.5" height="183" fill="#fbdac7"/><use href="#dotsB"/><path d="M103,147 H131 V300 C120,296 112,292 103,285 Z" fill="#c9b59c"/><path d="M250,147 H277.5 V285 C270,292 262,296 250,300 Z" fill="#c9b59c"/><use href="#lining"/><use href="#strips"/><use href="#gums"/><use href="#enamel"/><use href="#dentin"/><path d="M143,160 C143,138 144,127 152,127 L235,126.5 C239,126.5 240.5,129 240.5,135 C240.5,160 237.5,175 237.5,190 L238,330 L232,330 L231,265 C230,245 223,228 219.9,218.3 C215,200 208,166.7 191.3,166.7 C176,166.7 168,200 162.3,218.3 C158,236 151,250 150,265 L150,305 L142,305 L142.5,200 Z" fill="url(#pulpGrad)" stroke="#b8161a" stroke-width="0.8"/><g fill="none" stroke-width="1.2" clip-path="url(#pulpClip)"><path d="M149,300 C149.3,293.3 151.2,271.7 151,260 C150.8,248.3 147.8,240.0 148,230 C148.2,220.0 151.7,209.2 152,200 C152.3,190.8 150.3,181.7 150,175 C149.7,168.3 150.2,164.5 150,160 C149.8,155.5 148.9,151.2 149,148 C149.1,144.8 150.0,142.8 150.4,140.9 C150.8,139.0 150.5,137.4 151.7,136.6 C152.9,135.8 155.8,135.3 157.8,136 C159.8,136.7 162.7,138.5 163.9,140.9 C165.1,143.3 164.5,148.2 165.1,150.7 C165.7,153.1 166.6,154.0 167.6,155.6 C168.6,157.2 168.8,159.5 171.2,160.5 C173.6,161.5 178.3,161.7 182.2,161.7 C186.1,161.7 190.6,161.1 194.5,160.5 C198.4,159.9 202.9,158.8 205.5,158 C208.1,157.2 208.7,157.6 210.3,155.6 C211.9,153.6 214.9,148.4 215.2,145.8 C215.5,143.2 212.5,141.0 212,140" stroke="#8d8a5a"/><path d="M161.4,156.8 C162.6,155.9 165.7,152.3 168.8,151.3 C171.9,150.3 175.9,151.0 179.8,150.7 C183.7,150.4 187.7,150.6 192,149.4 C196.3,148.2 202.0,144.7 205.5,143.3 C209.0,141.9 210.8,140.7 212.8,140.9 C214.8,141.1 216.5,143.2 217.7,144.6 C218.9,146.0 219.3,146.6 220.1,149.4 C220.9,152.2 222.4,158.0 222.6,161.7 C222.8,165.4 221.0,168.2 221.4,171.5 C221.8,174.8 223.9,176.4 225,181.2 C226.1,185.9 227.8,194.4 228,200 C228.2,205.6 225.7,210.0 226,215 C226.3,220.0 229.7,224.2 230,230 C230.3,235.8 227.7,243.3 228,250 C228.3,256.7 231.7,263.3 232,270 C232.3,276.7 229.8,283.3 230,290 C230.2,296.7 232.3,303.3 233,310 C233.7,316.7 233.8,326.7 234,330" stroke="#8d8a5a"/><path d="M227.5,136 C228.1,138.2 231.1,145.1 231.1,149.4 C231.1,153.7 227.7,157.6 227.5,161.7 C227.3,165.8 228.9,170.0 229.9,173.9 C230.9,177.8 233.2,180.7 233.6,185 C233.9,189.3 231.9,194.2 232,200 C232.1,205.8 234.0,213.3 234,220 C234.0,226.7 231.8,232.5 232,240 C232.2,247.5 234.8,256.7 235,265 C235.2,273.3 232.8,279.2 233,290 C233.2,300.8 235.5,323.3 236,330" stroke="#8d8a5a"/><path d="M146,300 C146.2,295.0 147.2,280.0 147,270 C146.8,260.0 145.2,250.0 145,240 C144.8,230.0 145.9,219.2 146,210 C146.1,200.8 145.9,193.1 145.6,185 C145.3,176.9 144.1,168.0 144.3,161.7 C144.5,155.4 145.8,150.1 146.8,147 C147.8,143.9 148.0,142.9 150.4,143.3 C152.8,143.7 157.5,148.0 161.4,149.4 C165.3,150.8 169.6,152.1 173.7,151.9 C177.8,151.7 182.4,149.6 185.9,148.2 C189.4,146.8 193.1,144.1 194.5,143.3" stroke="#f5872e"/><path d="M152,300 C152.5,293.3 154.2,271.7 155,260 C155.8,248.3 156.5,239.2 157,230 C157.5,220.8 157.9,212.5 158,205 C158.1,197.5 158.2,191.2 157.8,185 C157.4,178.8 155.3,171.5 155.3,167.8 C155.3,164.1 155.8,163.3 157.8,162.9 C159.9,162.5 163.9,164.7 167.6,165.3 C171.3,165.9 175.7,166.8 179.8,166.6 C183.9,166.4 188.3,165.5 192,164.1 C195.7,162.7 199.2,160.0 201.8,158 C204.5,156.0 205.7,154.6 207.9,151.9 C210.1,149.2 213.6,142.5 215.2,142.1 C216.8,141.7 217.7,146.6 217.7,149.4 C217.7,152.2 215.6,156.1 215.2,159.2 C214.8,162.3 214.4,165.0 215.2,167.8 C216.0,170.7 218.9,173.4 220.1,176.3 C221.3,179.2 221.6,181.1 222.6,185 C223.6,188.9 224.9,194.2 226,200 C227.1,205.8 228.2,212.5 229,220 C229.8,227.5 230.3,235.0 231,245 C231.7,255.0 232.3,265.8 233,280 C233.7,294.2 234.7,321.7 235,330" stroke="#f5872e"/><path d="M236,188 C235.5,189.7 232.8,194.3 233,198 C233.2,201.7 237.0,205.8 237,210 C237.0,214.2 233.1,218.3 233,223 C232.9,227.7 236.6,233.0 236.5,238 C236.4,243.0 232.6,248.0 232.5,253 C232.4,258.0 235.9,262.7 236,268 C236.1,273.3 233.0,278.8 233,285 C233.0,291.2 235.8,297.5 236,305 C236.2,312.5 234.3,325.8 234,330" stroke="#a3221e"/></g><path d="M149,110 L238.5,110 L240.5,129 C210,128 180,128 149,129.5 Z" fill="url(#brownBand)"/><path d="M149.4,92 C170,93 185,97 195,96.5 C210,96 225,91.5 238,91 L238,114 C210,114.5 180,115.5 149.4,116 Z" fill="url(#openGrad)"/><path d="M138,330 L138.5,321 C134,317 130,310 130,301 C130,293 136,288 143.5,288 C151,288 157,293 157,301 C157,310 152,317 147.5,321 L147,330 Z" fill="url(#absGrad)"/></g><g transform="translate(540.5,0)"><rect x="103" y="147" width="174.5" height="183" fill="#fbdac7"/><use href="#dotsB"/><path d="M103,147 H131 V300 C120,296 112,292 103,285 Z" fill="#c9b59c"/><path d="M250,147 H277.5 V285 C270,292 262,296 250,300 Z" fill="#c9b59c"/><use href="#lining"/><use href="#strips"/><use href="#gums"/><use href="#enamel"/><use href="#dentin"/><path d="M137.5,320 L149,320 L147,330 L139,330 Z" fill="#c0282c"/><path d="M231.5,306 L240.5,306 L240,330 L232,330 Z" fill="#a8302e"/><path d="M150,113 L240.5,113 L242.5,240 L242,305 C240,311 234,311 230.5,306 C230.5,303 230,298 229.5,290 C229,275 228,258 226,245 C224,235 221,225 218.5,215 C216,206 213,196 209,186 C205,177 200,170 193.5,170 C187,170 184,172 181,177 C177,185 172,196 168.6,204 C166,210 164.5,213 164.4,215 C160,240 156,262 155,281.5 C154,296 151,306 148,309 C145,311 141,309 140,305 C140,290 141,260 143,240 C145,215 148,190 150,160 Z" fill="url(#cavGrad)"/><path d="M149.4,92 C170,93 185,97 195,96.5 C210,96 225,91.5 238,91 L238,114 C210,114.5 180,115.5 149.4,116 Z" fill="url(#openGrad)"/><path d="M129.8,301 C137,306.5 150,307.5 157.8,303.5 C159,313 154,322 146,325.5 C141,327 135,324 132,318 C130,313 129.5,306 129.8,301 Z" fill="url(#blobGrad)"/></g><g transform="translate(-12.8,388)"><rect x="103" y="147" width="174.5" height="183" fill="#fbdac7"/><use href="#dotsB"/><path d="M103,147 H131 V300 C120,296 112,292 103,285 Z" fill="#c9b59c"/><path d="M250,147 H277.5 V285 C270,292 262,296 250,300 Z" fill="#c9b59c"/><use href="#lining"/><use href="#strips"/><use href="#gums"/><use href="#enamel"/><use href="#dentin"/><path d="M137.5,320 L149,320 L147,330 L139,330 Z" fill="#a59d95"/><path d="M232,306 L241,306 L240.5,330 L233,330 Z" fill="#b3aeab"/><path d="M150,113 L240.5,113 L242.5,240 L242,305 C240,311 234,311 230.5,306 C230.5,303 230,298 229.5,290 C229,275 228,258 226,245 C224,235 221,225 218.5,215 C216,206 213,196 209,186 C205,177 200,170 193.5,170 C187,170 184,172 181,177 C177,185 172,196 168.6,204 C166,210 164.5,213 164.4,215 C160,240 156,262 155,281.5 C154,296 151,306 148,309 C145,311 141,309 140,305 C140,290 141,260 143,240 C145,215 148,190 150,160 Z" fill="url(#cavGrad)"/><path d="M163.3,146 C163.3,142 172.6,142 172.6,146 C170,175 166,195 164.4,212 C160,240 156,262 155,281.5 C154.5,295 152,306 148,309.5 C145,311.5 141,310 140,305 C140,290 141,262 142,245 C144,225 147,212 150,200 C155,180 160,165 163.3,146 Z" fill="url(#gpGrad)" stroke="#d98aa2" stroke-width="1"/><path d="M198.5,166 L241.2,166 L242.5,240 L242,305 C240,311 234,311 230.5,306 C230.5,303 230,298 229.5,290 C229,275 228,258 226,245 C224,235 221,225 218.5,215 C216,206 213,196 209,186 C206,179 202,172 198.5,166 Z" fill="url(#gpGrad)" stroke="#d98aa2" stroke-width="1"/><ellipse cx="219.85" cy="165.8" rx="21.4" ry="5.2" fill="url(#gpTop)"/><path d="M149.4,92 C170,93 185,97 195,96.5 C210,96 225,91.5 238,91 L238,114 C210,114.5 180,115.5 149.4,116 Z" fill="url(#openGrad)"/><path d="M129.8,301 C137,306.5 150,307.5 157.8,303.5 C159,313 154,322 146,325.5 C141,327 135,324 132,318 C130,313 129.5,306 129.8,301 Z" fill="url(#blobGrad)"/></g><g transform="translate(269.5,388)"><rect x="103" y="147" width="174.5" height="183" fill="#fbdac7"/><use href="#dotsB"/><path d="M103,147 H131 V300 C120,296 112,292 103,285 Z" fill="#c9b59c"/><path d="M250,147 H277.5 V285 C270,292 262,296 250,300 Z" fill="#c9b59c"/><use href="#lining"/><use href="#strips"/><use href="#gums"/><use href="#enamel"/><use href="#dentin"/><path d="M137.5,320 L149,320 L147,330 L139,330 Z" fill="#a59d95"/><path d="M232,306 L241,306 L240.5,330 L233,330 Z" fill="#b3aeab"/><path d="M150,113 L240.5,113 L242.5,240 L242,305 C240,311 234,311 230.5,306 C230.5,303 230,298 229.5,290 C229,275 228,258 226,245 C224,235 221,225 218.5,215 C216,206 213,196 209,186 C205,177 200,170 193.5,170 C187,170 184,172 181,177 C177,185 172,196 168.6,204 C166,210 164.5,213 164.4,215 C160,240 156,262 155,281.5 C154,296 151,306 148,309 C145,311 141,309 140,305 C140,290 141,260 143,240 C145,215 148,190 150,160 Z" fill="url(#gpGrad)" stroke="#d98aa2" stroke-width="1"/><path d="M129.8,301 C137,306.5 150,307.5 157.8,303.5 C159,313 154,322 146,325.5 C141,327 135,324 132,318 C130,313 129.5,306 129.8,301 Z" fill="url(#blobGrad)"/><path d="M156.5,170 L170.5,170 L156.5,254 L143.5,254 Z" fill="url(#postGrad)"/><path d="M148,90 C175,89 210,89.5 241.5,90 L241.5,174 L148,174 Z" fill="url(#fillGrad)"/><path d="M148,90 C175,89 210,89.5 241.5,90 L241.5,99 C225,101.5 210,102.5 194,102.5 C178,102.5 162,101.5 148,99 Z" fill="#e6e1d9"/><ellipse cx="193" cy="141" rx="9" ry="11" fill="#d6d3cf" opacity="0.7" filter="url(#blur4)"/><ellipse cx="172" cy="140" rx="8" ry="8" fill="#fbfaf8" opacity="0.8" filter="url(#blur4)"/><ellipse cx="226" cy="138" rx="6" ry="10" fill="#e2dfdb" opacity="0.6" filter="url(#blur4)"/></g><g transform="translate(552.5,388)"><rect x="103" y="147" width="174.5" height="183" fill="#fbdac7"/><use href="#dotsB"/><path d="M103,147 H131 V300 C120,296 112,292 103,285 Z" fill="#c9b59c"/><path d="M250,147 H277.5 V285 C270,292 262,296 250,300 Z" fill="#c9b59c"/><use href="#lining"/><use href="#strips"/><use href="#gums"/><use href="#dentin"/><path d="M137.5,320 L149,320 L147,330 L139,330 Z" fill="#a59d95"/><path d="M232,306 L241,306 L240.5,330 L233,330 Z" fill="#b3aeab"/><path d="M150,113 L240.5,113 L242.5,240 L242,305 C240,311 234,311 230.5,306 C230.5,303 230,298 229.5,290 C229,275 228,258 226,245 C224,235 221,225 218.5,215 C216,206 213,196 209,186 C205,177 200,170 193.5,170 C187,170 184,172 181,177 C177,185 172,196 168.6,204 C166,210 164.5,213 164.4,215 C160,240 156,262 155,281.5 C154,296 151,306 148,309 C145,311 141,309 140,305 C140,290 141,260 143,240 C145,215 148,190 150,160 Z" fill="url(#gpGrad)" stroke="#d98aa2" stroke-width="1"/><path d="M129.8,301 C137,306.5 150,307.5 157.8,303.5 C159,313 154,322 146,325.5 C141,327 135,324 132,318 C130,313 129.5,306 129.8,301 Z" fill="url(#blobGrad)"/><path d="M155.9,170 L171.3,170 L155.9,253.4 L142.5,253.4 Z" fill="url(#postGrad)"/><rect x="147" y="160" width="94" height="16" fill="#f3f1ed"/></g><path d="M718,21 L732.5,22.5 L727.5,58 L713,57 Z" fill="url(#blueGrad)"/><path d="M718,21 L732.5,22.5 L731,33 L716.5,32 Z" fill="url(#blueFade)"/><path d="M712,57 C712,55.5 729.5,56 729.5,57.5 L729,64.5 C729,66 711,65.5 711,64 Z" fill="url(#collarGrad)" stroke="#c8c8cc" stroke-width="0.5"/><path d="M714.7,65 L725,65 L689,305 L684,305 Z" fill="url(#shaftGrad)"/><g stroke="#7c8494" stroke-width="1.25"><line x1="707.1" y1="129.2" x2="715.5" y2="125.8"/><line x1="706.2" y1="136.4" x2="714.5" y2="133.0"/><line x1="705.2" y1="143.6" x2="713.4" y2="140.2"/><line x1="704.3" y1="150.8" x2="712.3" y2="147.4"/><line x1="703.4" y1="158.0" x2="711.2" y2="154.6"/><line x1="702.4" y1="165.2" x2="710.1" y2="161.8"/><line x1="701.5" y1="172.4" x2="709.0" y2="169.0"/><line x1="700.5" y1="179.6" x2="707.9" y2="176.2"/><line x1="699.6" y1="186.8" x2="706.8" y2="183.4"/><line x1="698.7" y1="194.0" x2="705.7" y2="190.6"/><line x1="697.7" y1="201.2" x2="704.7" y2="197.8"/><line x1="696.8" y1="208.4" x2="703.6" y2="205.0"/><line x1="695.9" y1="215.6" x2="702.5" y2="212.2"/><line x1="694.9" y1="222.8" x2="701.4" y2="219.4"/><line x1="694.0" y1="230.0" x2="700.3" y2="226.6"/><line x1="693.1" y1="237.2" x2="699.2" y2="233.8"/><line x1="692.1" y1="244.4" x2="698.1" y2="241.0"/><line x1="691.2" y1="251.6" x2="697.0" y2="248.2"/><line x1="690.2" y1="258.8" x2="696.0" y2="255.4"/><line x1="689.3" y1="266.0" x2="694.9" y2="262.6"/><line x1="688.4" y1="273.2" x2="693.8" y2="269.8"/><line x1="687.4" y1="280.4" x2="692.7" y2="277.0"/><line x1="686.5" y1="287.6" x2="691.6" y2="284.2"/><line x1="685.6" y1="294.8" x2="690.5" y2="291.4"/><line x1="684.6" y1="302.0" x2="689.4" y2="298.6"/></g><path d="M174.7,412 L185,412 L162.5,531 L155,531 Z" fill="url(#shaftGrad)"/><path d="M698.4,551 C690,548 680,535 674,522 C668,508 663.5,495 663.5,484 C663.5,474 668,468 677,467 C685,466 690,466 692,466 C700,463 708,461 715.4,461.3 C725,462 732,468 738,468 C748,468 760,464 772,463.5 C780,463 787,463 792,465 C800,467 806,470 809,474 C814,480 816.5,488 816.5,497 C816.5,510 814,522 808,534 C804,543 800,548 795.7,551 Z" fill="url(#crownGrad)" stroke="#d4d4d6" stroke-width="0.8"/><path d="M677,467 C685,466 690,466 692,466 C700,463 708,461 715.4,461.3 C725,462 732,468 738,468 C748,468 760,464 772,463.5 C780,463 787,463 792,465 C800,467 806,470 809,474 C804,471 798,470 790,469.5 C782,469 776,468 772,468 C765,468 760,469.5 755,470.8 C746,473 738,476.4 730.6,476.4 C722,474 714,470 705,468 C696,467 688,467 677.7,467 Z" fill="#e9e9eb"/><path d="M699.4,551 L794.8,551 L794.8,563 L699.4,563 Z" fill="#f3f1ed" stroke="#dcd8d2" stroke-width="0.7"/></svg><svg style="position:absolute;left:0;top:0" width="900" height="839" viewBox="0 0 900 839"><g font-family="Liberation Sans, sans-serif" fill="#0c0c0c"><text x="17.73" y="119.7" font-size="18" textLength="49.3" lengthAdjust="spacingAndGlyphs">Decay</text><text x="18.3" y="146.3" font-size="18" textLength="37.72" lengthAdjust="spacingAndGlyphs">Gum</text><text x="17.88" y="193.7" font-size="18" textLength="65.27" lengthAdjust="spacingAndGlyphs">Infected</text><text x="19.1" y="216.3" font-size="18" textLength="34.73" lengthAdjust="spacingAndGlyphs">pulp</text><text x="18.4" y="311.4" font-size="18" textLength="62.83" lengthAdjust="spacingAndGlyphs">Abscess</text><text x="307.17" y="128.7" font-size="18" textLength="53.56" lengthAdjust="spacingAndGlyphs">Dentin</text><text x="307.24" y="200.9" font-size="18" textLength="59.43" lengthAdjust="spacingAndGlyphs">Nerves,</text><text x="308.2" y="223.9" font-size="18" textLength="45.55" lengthAdjust="spacingAndGlyphs">blood</text><text x="308.2" y="247.2" font-size="18" textLength="54.03" lengthAdjust="spacingAndGlyphs">vessels</text><text x="306.72" y="323.9" font-size="18" textLength="41.12" lengthAdjust="spacingAndGlyphs">Bone</text><text x="533.0" y="66.3" font-size="18" textLength="69.56" lengthAdjust="spacingAndGlyphs">Opening</text><text x="771.87" y="45.8" font-size="18" textLength="92.51" lengthAdjust="spacingAndGlyphs">Endodontic</text><text x="772.6" y="68.4" font-size="18" textLength="22.42" lengthAdjust="spacingAndGlyphs">file</text><text x="216.3" y="446.8" font-size="18" textLength="62.05" lengthAdjust="spacingAndGlyphs">Plugger</text><text x="18.6" y="606.7" font-size="18" textLength="53.73" lengthAdjust="spacingAndGlyphs">Gutta -</text><text x="19.0" y="629.2" font-size="18" textLength="53.35" lengthAdjust="spacingAndGlyphs">percha</text><text x="476.68" y="447.4" font-size="18" textLength="48.14" lengthAdjust="spacingAndGlyphs">Filling</text><text x="310.65" y="603.4" font-size="18" textLength="34.18" lengthAdjust="spacingAndGlyphs">Post</text><text x="830.7" y="448.3" font-size="18" textLength="51.42" lengthAdjust="spacingAndGlyphs">Crown</text></g><g stroke="#3c3c3c" stroke-width="1.25"><line x1="74.9" y1="117.5" x2="182.7" y2="117.5"/><line x1="62.4" y1="141.9" x2="109.4" y2="141.9"/><line x1="91.2" y1="190" x2="155.8" y2="190"/><line x1="88.3" y1="308.3" x2="139" y2="308.3"/><line x1="243.4" y1="122.3" x2="298.8" y2="122.3"/><line x1="225.8" y1="204.8" x2="299.4" y2="204.8"/><line x1="263.3" y1="320" x2="299.1" y2="320"/><line x1="524.2" y1="64.7" x2="483.3" y2="110"/><line x1="725.6" y1="41" x2="762.2" y2="41"/><line x1="176.4" y1="439.1" x2="210.8" y2="439.1"/><line x1="77.5" y1="615.3" x2="140.8" y2="615.3"/><line x1="499.3" y1="453.2" x2="484.9" y2="508.1"/><line x1="352" y1="597.7" x2="427.1" y2="597.7"/><line x1="824.9" y1="446.6" x2="797.4" y2="491.4"/></g><g font-family="Liberation Sans, sans-serif" font-weight="bold" font-style="italic" fill="#080808" font-size="22.4" stroke="#080808" stroke-width="0.35"><text x="117.1" y="366.7" textLength="145.42" lengthAdjust="spacingAndGlyphs">Infected tooth</text><text x="394.62" y="366.6" textLength="152.89" lengthAdjust="spacingAndGlyphs">Opening made</text><text x="432.4" y="395" textLength="80.68" lengthAdjust="spacingAndGlyphs">in tooth</text><text x="608.4" y="366.4" textLength="250.96" lengthAdjust="spacingAndGlyphs">Infected tissue removed;</text><text x="657.55" y="395.5" textLength="155.14" lengthAdjust="spacingAndGlyphs">Canals cleaned</text><text x="67.83" y="763.3" textLength="195.01" lengthAdjust="spacingAndGlyphs">Canals filled with a</text><text x="62.6" y="789.9" textLength="206.58" lengthAdjust="spacingAndGlyphs">permanent material</text><text x="86.1" y="815.9" textLength="155.97" lengthAdjust="spacingAndGlyphs">(gutta - percha)</text><text x="316.13" y="762.7" textLength="281.61" lengthAdjust="spacingAndGlyphs">Opening sealed with filling.</text><text x="337.1" y="791.9" textLength="234.64" lengthAdjust="spacingAndGlyphs">In some cases, a post is</text><text x="324.2" y="818.6" textLength="264.13" lengthAdjust="spacingAndGlyphs">inserted for extra support</text><text x="631.1" y="762.4" textLength="219.3" lengthAdjust="spacingAndGlyphs">New crown cemented</text><text x="652.3" y="791" textLength="181.99" lengthAdjust="spacingAndGlyphs">onto rebuilt tooth</text></g></svg></body></html>
